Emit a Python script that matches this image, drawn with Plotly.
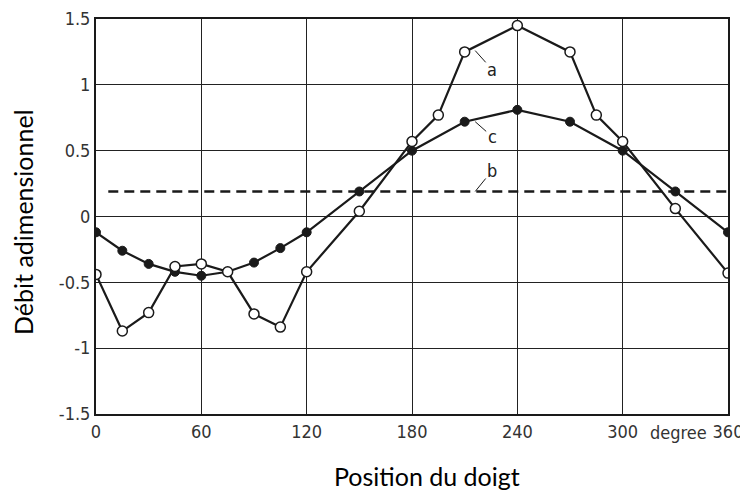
import plotly.graph_objects as go

# ---- data ----
x_a = [0, 15, 30, 45, 60, 75, 90, 105, 120, 150, 180, 195, 210, 240, 270, 285, 300, 330, 360]
y_a = [-0.44, -0.87, -0.73, -0.38, -0.36, -0.42, -0.74, -0.84, -0.42, 0.04, 0.57, 0.77, 1.25, 1.45, 1.25, 0.77, 0.57, 0.06, -0.43]

x_c = [0, 15, 30, 45, 60, 75, 90, 105, 120, 150, 180, 210, 240, 270, 300, 330, 360]
y_c = [-0.12, -0.26, -0.36, -0.42, -0.45, -0.42, -0.35, -0.24, -0.12, 0.19, 0.5, 0.72, 0.81, 0.72, 0.5, 0.19, -0.12]

x_b = [7, 360]
y_b = [0.19, 0.19]

x_ticks = [0, 60, 120, 180, 240, 300, 360]
x_ticktext = ["0", "60", "120", "180", "240", "300", "360"]
y_ticks = [-1.5, -1, -0.5, 0, 0.5, 1, 1.5]
y_ticktext = ["-1.5", "-1", "-0.5", "0", "0.5", "1", "1.5"]

x_title = "Position du doigt"
y_title = "Débit adimensionnel"
unit_label = "degree"

INK = "#1a1a1a"
TICKFONT = dict(family="DejaVu Sans Condensed, DejaVu Sans, sans-serif", size=18, color="#333333")
TITLEFONT = dict(family="Lato, Open Sans, sans-serif", size=25, color="black")

# page body has an 8px margin; the plot area should sit at x 96..728, y 19..414 on the page
PAGE_OFF = 8
L, R, T, B = 96 - PAGE_OFF, 20, 19 - PAGE_OFF, 79
W, H = 748 - PAGE_OFF, 493 - PAGE_OFF
PW, PH = W - L - R, H - T - B

def px_x(px):
    return (px - 96) / PW

def px_y(py):
    return (414 - py) / PH

fig = go.Figure()
fig.add_trace(go.Scatter(x=x_b, y=y_b, mode="lines",
                         line=dict(color=INK, width=2.5, dash="10px,6px")))
fig.add_trace(go.Scatter(x=x_c, y=y_c, mode="lines+markers",
                         line=dict(color=INK, width=2.2),
                         marker=dict(size=9, color=INK, line=dict(color=INK, width=1))))
fig.add_trace(go.Scatter(x=x_a, y=y_a, mode="lines+markers",
                         line=dict(color=INK, width=2.2),
                         marker=dict(size=10, color="white", line=dict(color=INK, width=1.5))))

fig.update_xaxes(range=[0, 360], tickvals=x_ticks, ticktext=x_ticktext,
                 showgrid=True, gridcolor="#222222", gridwidth=1,
                 showline=True, linecolor=INK, linewidth=2, mirror=True,
                 zeroline=False, ticks="", tickfont=TICKFONT, automargin=False)
fig.update_yaxes(range=[-1.5, 1.5], tickvals=y_ticks, ticktext=y_ticktext,
                 showgrid=True, gridcolor="#222222", gridwidth=1,
                 showline=True, linecolor=INK, linewidth=2, mirror=True,
                 zeroline=False, ticks="", tickfont=TICKFONT, automargin=False)

# axis titles placed as paper-referenced text
fig.add_annotation(xref="paper", yref="paper", x=px_x(427), y=px_y(476),
                   text=x_title, showarrow=False, font=TITLEFONT, xanchor="center", yanchor="middle")
fig.add_annotation(xref="paper", yref="paper", x=px_x(23), y=px_y(222),
                   text=y_title, showarrow=False, font=TITLEFONT, textangle=-90,
                   xanchor="center", yanchor="middle")

ann_font = dict(family="DejaVu Sans Condensed, DejaVu Sans, sans-serif", size=18, color="#222222")
fig.add_annotation(x=216, y=1.26, text="a", showarrow=True, arrowhead=0, arrowwidth=1, arrowcolor=INK,
                   ax=17, ay=19, font=ann_font, standoff=0)
fig.add_annotation(x=216, y=0.72, text="c", showarrow=True, arrowhead=0, arrowwidth=1, arrowcolor=INK,
                   ax=17, ay=15, font=ann_font, standoff=0)
fig.add_annotation(x=216, y=0.19, text="b", showarrow=True, arrowhead=0, arrowwidth=1, arrowcolor=INK,
                   ax=17, ay=-21, font=ann_font, standoff=0)
fig.add_annotation(x=332, y=-1.5, yref="y", text=unit_label, showarrow=False,
                   yanchor="top", yshift=-6, font=TICKFONT)

fig.update_layout(width=W, height=H, showlegend=False,
                  plot_bgcolor="white", paper_bgcolor="white",
                  margin=dict(l=L, r=R, t=T, b=B, autoexpand=False))

fig.write_html("out.html")
